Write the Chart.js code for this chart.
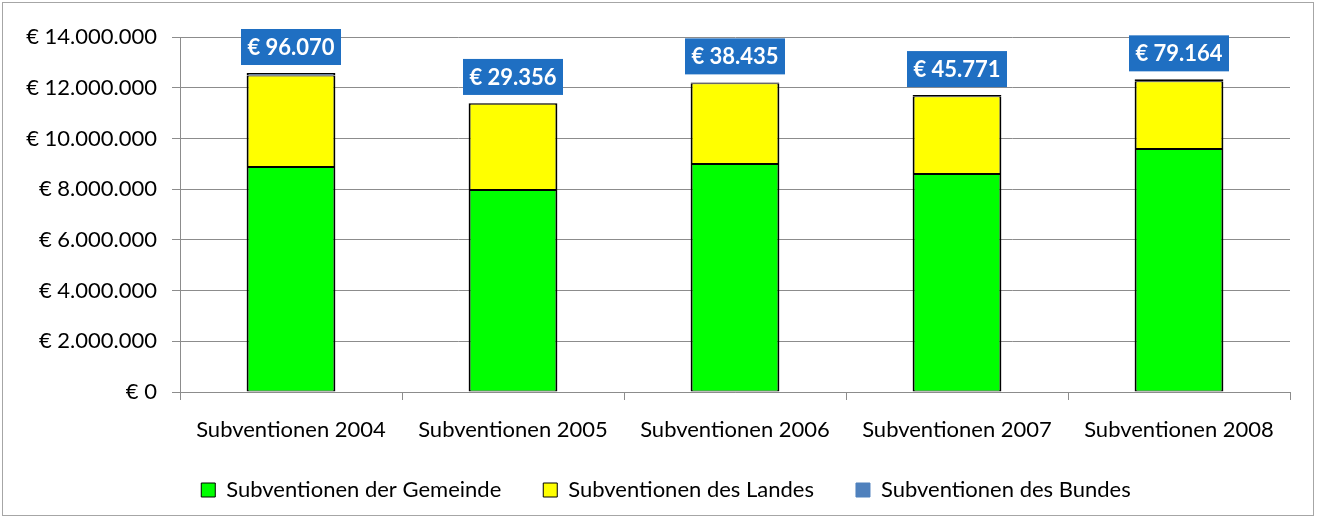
<!DOCTYPE html>
<html lang="de">
<head>
    <meta charset="UTF-8">
    <title>Subventionen 2004-2008</title>
    <script src="https://cdn.jsdelivr.net/npm/chart.js"></script>
    <style>
        html, body { margin: 0; padding: 0; background: #fff; }
        .wrap { position: relative; width: 1321px; height: 518px; }
    </style>
</head>
<body>
    <div class="wrap">
        <canvas id="subChart" width="1321" height="518"></canvas>
    </div>

    <script>
        // Daten
        const categories = ['Subventionen 2004', 'Subventionen 2005', 'Subventionen 2006', 'Subventionen 2007', 'Subventionen 2008'];
        const gemeinde = [8870000, 7970000, 8990000, 8600000, 9580000];
        const landes = [3614000, 3400000, 3182000, 3064000, 2671000];
        const bundes = [96070, 29356, 38435, 45771, 79164];
        const yTicks = [0, 2000000, 4000000, 6000000, 8000000, 10000000, 12000000, 14000000];

        const FONT = 'Lato, "Open Sans", sans-serif';
        const barBorder = { top: 1, bottom: 1, left: 2, right: 2 };

        // Zahl im deutschen Format: 96070 -> "96.070"
        function fmt(v) {
            return String(Math.round(v)).replace(/\B(?=(\d{3})+(?!\d))/g, '.');
        }

        // Rahmen um das ganze Diagramm
        const frame = {
            id: 'frame',
            beforeDraw(chart) {
                const c = chart.ctx;
                c.save();
                c.fillStyle = '#ffffff';
                c.fillRect(0, 0, chart.width, chart.height);
                c.strokeStyle = '#a6a6a6';
                c.lineWidth = 1;
                c.strokeRect(2.5, 2.5, chart.width - 10, chart.height - 5);
                c.restore();
            }
        };

        // Legende etwas nach rechts/oben schieben (Mitte wie im Original)
        const legendShift = {
            id: 'legendShift',
            afterLayout(chart) {
                const lg = chart.legend;
                lg.left += 21; lg.right += 21;
                lg.top -= 5; lg.bottom -= 5;
            }
        };

        // blaue Kästchen mit dem Bundesanteil über jeder Säule
        const bundLabels = {
            id: 'bundLabels',
            afterDatasetsDraw(chart) {
                const c = chart.ctx;
                const meta = chart.getDatasetMeta(2);
                c.save();
                c.font = 'bold 22px ' + FONT;
                c.textAlign = 'center';
                c.textBaseline = 'middle';
                meta.data.forEach((bar, i) => {
                    const w = 100, h = 36;
                    const bottom = bar.y - 8;
                    c.fillStyle = '#1f6fc2';
                    c.fillRect(bar.x - w / 2, bottom - h, w, h);
                    c.fillStyle = '#ffffff';
                    c.fillText('€ ' + fmt(bundes[i]), bar.x, bottom - h / 2 + 1);
                });
                c.restore();
            }
        };

        const ctx = document.getElementById('subChart').getContext('2d');
        new Chart(ctx, {
            type: 'bar',
            data: {
                labels: categories,
                datasets: [
                    { label: 'Subventionen der Gemeinde', data: gemeinde, backgroundColor: '#00ff00', borderColor: '#000', borderWidth: barBorder, borderSkipped: false },
                    { label: 'Subventionen des Landes', data: landes, backgroundColor: '#ffff00', borderColor: '#000', borderWidth: barBorder, borderSkipped: false },
                    { label: 'Subventionen des Bundes', data: bundes, backgroundColor: '#4f81bd', borderColor: '#000', borderWidth: barBorder, borderSkipped: false }
                ]
            },
            options: {
                responsive: false,
                animation: false,
                barPercentage: 0.4,
                categoryPercentage: 1,
                layout: { padding: { top: 37, right: 31, left: 0, bottom: 2 } },
                scales: {
                    x: {
                        stacked: true,
                        afterFit: (s) => { s.height = 50; },
                        grid: { drawOnChartArea: false, color: '#8c8c8c', tickLength: 8, offset: true },
                        border: { color: '#8c8c8c' },
                        ticks: { color: '#000', font: { family: FONT, size: 22 }, padding: 17, maxRotation: 0 }
                    },
                    y: {
                        stacked: true,
                        min: 0,
                        max: 14000000,
                        afterFit: (s) => { s.width = 180; },
                        afterBuildTicks: (s) => { s.ticks = yTicks.map(v => ({ value: v })); },
                        grid: { color: '#8c8c8c', tickLength: 8 },
                        border: { color: '#8c8c8c' },
                        ticks: {
                            color: '#000',
                            font: { family: FONT, size: 22 },
                            padding: 15,
                            callback: (v) => '€ ' + fmt(v)
                        }
                    }
                },
                plugins: {
                    tooltip: { enabled: false },
                    legend: {
                        position: 'bottom',
                        labels: {
                            color: '#000',
                            font: { family: FONT, size: 22 },
                            boxWidth: 14,
                            boxHeight: 14,
                            padding: 42,
                            generateLabels(chart) {
                                const items = Chart.defaults.plugins.legend.labels.generateLabels(chart);
                                items.forEach(it => { it.lineWidth = 1; });
                                items[2].strokeStyle = '#4f81bd';
                                return items;
                            }
                        }
                    }
                }
            },
            plugins: [frame, legendShift, bundLabels]
        });
    </script>
</body>
</html>
